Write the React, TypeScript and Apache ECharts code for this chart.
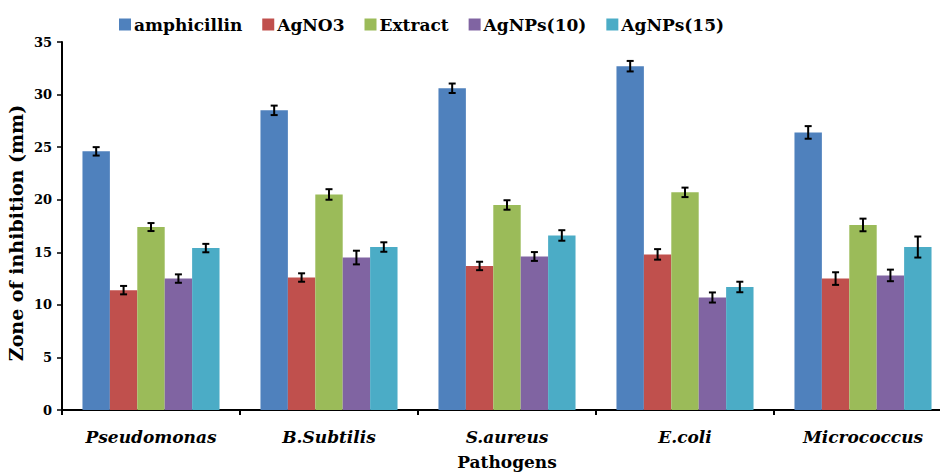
import React, { useEffect, useRef } from "react";
import * as echarts from "echarts";

const categories = ["Pseudomonas", "B.Subtilis", "S.aureus", "E.coli", "Micrococcus"];
const seriesNames = ["amphicillin", "AgNO3", "Extract", "AgNPs(10)", "AgNPs(15)"];
const colors = ["#4F81BD", "#C0504D", "#9BBB59", "#8064A2", "#4BACC6"];

const amphicillin = [24.6, 28.5, 30.6, 32.7, 26.4];
const agno3 = [11.4, 12.6, 13.7, 14.8, 12.5];
const extract = [17.4, 20.5, 19.5, 20.7, 17.6];
const agnps10 = [12.5, 14.5, 14.6, 10.7, 12.8];
const agnps15 = [15.4, 15.5, 16.6, 11.7, 15.5];

const errAmphicillin = [0.4, 0.45, 0.45, 0.5, 0.6];
const errAgno3 = [0.4, 0.4, 0.4, 0.5, 0.6];
const errExtract = [0.38, 0.5, 0.45, 0.45, 0.6];
const errAgnps10 = [0.4, 0.65, 0.42, 0.48, 0.55];
const errAgnps15 = [0.4, 0.45, 0.5, 0.5, 1.0];

const values = [amphicillin, agno3, extract, agnps10, agnps15];
const errors = [errAmphicillin, errAgno3, errExtract, errAgnps10, errAgnps15];

const yTicks = [0, 5, 10, 15, 20, 25, 30, 35];
const yTitle = "Zone of inhibition (mm)";
const xTitle = "Pathogens";

const CAT_GAP = 0.23;
const FONT = "DejaVu Serif";

export default function App() {
  const ref = useRef<HTMLDivElement>(null);
  useEffect(() => {
    if (!ref.current) return;
    const chart = echarts.init(ref.current, null, { renderer: "svg" });
    const n = seriesNames.length;
    const barSeries = seriesNames.map((name, i) => ({
      name,
      type: "bar",
      data: values[i],
      itemStyle: { color: colors[i] },
      barGap: "0%",
      barCategoryGap: CAT_GAP * 100 + "%",
    }));
    const errSeries = seriesNames.map((name, i) => ({
      name: name + "_err",
      type: "custom",
      data: values[i].map((v, k) => [k, v, errors[i][k]]),
      z: 10,
      silent: true,
      renderItem: (params: any, api: any) => {
        const idx = api.value(0);
        const v = api.value(1);
        const e = api.value(2);
        const band = api.size([1, 0])[0];
        const bw = (band * (1 - CAT_GAP)) / n;
        const c = api.coord([idx, v]);
        const cx = c[0] + (i - (n - 1) / 2) * bw;
        const hi = api.coord([idx, v + e])[1];
        const lo = api.coord([idx, v - e])[1];
        const cap = 3.5;
        const style = { stroke: "#000", lineWidth: 2 };
        return {
          type: "group",
          children: [
            { type: "line", shape: { x1: cx, y1: hi, x2: cx, y2: lo }, style },
            { type: "line", shape: { x1: cx - cap, y1: hi, x2: cx + cap, y2: hi }, style },
            { type: "line", shape: { x1: cx - cap, y1: lo, x2: cx + cap, y2: lo }, style },
          ],
        };
      },
    }));
    chart.setOption({
      animation: false,
      backgroundColor: "#fff",
      legend: {
        data: seriesNames,
        left: 114,
        top: 11,
        icon: "rect",
        itemWidth: 12,
        itemHeight: 12,
        itemGap: 20,
        textStyle: { fontFamily: FONT, fontWeight: "bold", fontSize: 17, color: "#000", padding: [0, 0, 0, -2] },
      },
      graphic: [
        {
          type: "text",
          x: 16,
          y: 233,
          rotation: Math.PI / 2,
          style: {
            text: yTitle,
            fontFamily: FONT,
            fontWeight: "bold",
            fontSize: 19,
            fill: "#000",
            align: "center",
            verticalAlign: "middle",
          },
        },
      ],
      grid: { left: 62, right: -12, top: 42, bottom: 62, outerBoundsMode: "none", containLabel: false },
      xAxis: {
        type: "category",
        data: categories,
        name: xTitle,
        nameLocation: "middle",
        nameGap: 43,
        nameTextStyle: { fontFamily: FONT, fontWeight: "bold", fontSize: 17, color: "#000" },
        axisLine: { lineStyle: { color: "#000", width: 2 } },
        axisTick: { show: true, length: 5, lineStyle: { color: "#000", width: 2 } },
        axisLabel: {
          fontFamily: FONT,
          fontWeight: "bold",
          fontStyle: "italic",
          fontSize: 17,
          color: "#000",
          margin: 18,
        },
      },
      yAxis: {
        type: "value",
        min: 0,
        max: 35,
        interval: 5,
        axisLine: { show: true, lineStyle: { color: "#000", width: 2 } },
        axisTick: { show: true, length: 5, lineStyle: { color: "#000", width: 1.5 } },
        axisLabel: {
          fontFamily: FONT,
          fontWeight: "bold",
          fontSize: 13,
          color: "#000",
          margin: 10,
          formatter: (v: number) => (yTicks.includes(v) ? String(v) : ""),
        },
        splitLine: { show: false },
      },
      series: [...barSeries, ...errSeries],
    });
    return () => chart.dispose();
  }, []);
  return (
    <div
      ref={ref}
      style={{ position: "absolute", left: 0, top: 0, width: 940, height: 472 }}
    />
  );
}
